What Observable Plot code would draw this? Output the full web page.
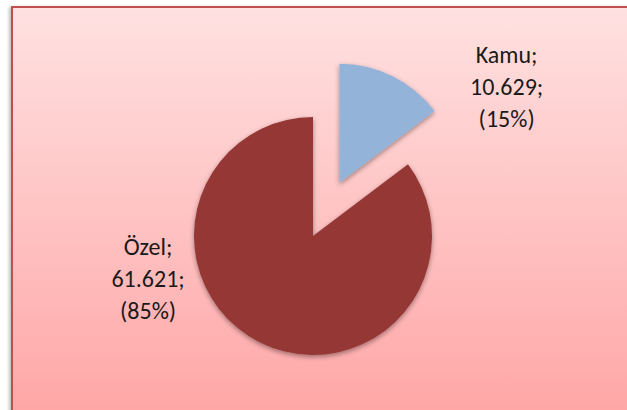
<!DOCTYPE html>
<html><head><meta charset="utf-8">
<script src="https://cdn.jsdelivr.net/npm/d3@7"></script>
<script src="https://cdn.jsdelivr.net/npm/@observablehq/plot@0.6"></script>
<style>
body{margin:0;background:#fff;}
#wrap{position:relative;width:627px;height:410px;overflow:hidden;background:#fff;}
#panel{position:absolute;left:11px;top:6px;width:640px;height:430px;border:2px solid #c0504d;background:linear-gradient(#ffe1e1,#ffa3a3);box-shadow:-2px 1px 3px rgba(0,0,0,0.25);}
#chart{position:absolute;left:0;top:0;}
</style></head>
<body><div id="wrap"><div id="panel"></div><div id="chart"></div></div>
<script>
// ---- data ----
const categories = ["Kamu", "Özel"];
const values = [10.629, 61.621];
const valueLabels = ["10.629", "61.621"];
const percentLabels = ["15%", "85%"];
const colors = ["#93b3d8", "#953735"];

// ---- layout (not data) ----
const W = 627, H = 410;
const R = 119;             // pie radius in px
const CX = 313, CY = 236;  // pie centre in px
const explode = [0.5, 0];  // explosion in radius units
const labelOffset = [[1.40, 0.83], [-1.39, -0.34]]; // label centre relative to slice apex, radius units

const data = categories.map((name, i) => ({
  name, value: values[i], valueLabel: valueLabels[i], pct: percentLabels[i], color: colors[i]
}));
const arcs = d3.pie().sort(null).value(d => d.value)(data);

// label positions in radius units (y up), computed from slice angles
const labels = arcs.map((a, i) => {
  const mid = (a.startAngle + a.endAngle) / 2;
  const ax = explode[i] * Math.sin(mid), ay = explode[i] * Math.cos(mid);
  return {...a.data, lx: ax + labelOffset[i][0], ly: ay + labelOffset[i][1]};
});

function pieMark(index, scales) {
  const g = d3.create("svg:g");
  const defs = g.append("defs");
  const f = defs.append("filter").attr("id", "pshadow").attr("x", "-20%").attr("y", "-20%").attr("width", "140%").attr("height", "140%");
  f.append("feDropShadow").attr("dx", 0).attr("dy", 2).attr("stdDeviation", 2.5).attr("flood-color", "#000").attr("flood-opacity", 0.4);
  const cx = scales.x(0), cy = scales.y(0);
  const r = scales.x(1) - scales.x(0);
  const arcGen = d3.arc().innerRadius(0).outerRadius(r);
  arcs.forEach((a, i) => {
    const mid = (a.startAngle + a.endAngle) / 2;
    const off = explode[i] * r;
    g.append("path")
      .attr("d", arcGen(a))
      .attr("fill", a.data.color)
      .attr("filter", "url(#pshadow)")
      .attr("transform", `translate(${cx + off * Math.sin(mid)},${cy - off * Math.cos(mid)})`);
  });
  return g.node();
}

const chart = Plot.plot({
  width: W, height: H,
  margin: 0,
  style: {background: "transparent", overflow: "visible"},
  x: {domain: [-CX / R, (W - CX) / R], axis: null},
  y: {domain: [-(H - CY) / R, CY / R], axis: null},
  marks: [
    pieMark,
    Plot.text(labels, {
      x: "lx", y: "ly",
      text: d => `${d.name};\n${d.valueLabel};\n(${d.pct})`,
      fontSize: 24, lineHeight: 1.33,
      fontFamily: "Carlito, 'Open Sans', sans-serif",
      fill: "#1a1a1a", textAnchor: "middle"
    })
  ]
});
document.getElementById("chart").appendChild(chart);
</script>
</body></html>
